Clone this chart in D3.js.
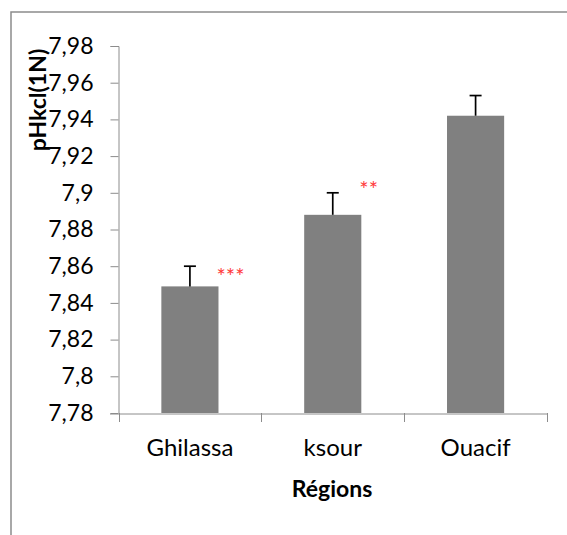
<!DOCTYPE html>
<html><head><meta charset="utf-8">
<script src="https://cdn.jsdelivr.net/npm/d3@7"></script>
<style>body{margin:0;background:#fff}svg{display:block}</style>
</head><body>
<script>
const categories = ["Ghilassa", "ksour", "Ouacif"];
const values = [7.849, 7.888, 7.942];
const errors = [0.011, 0.012, 0.011];
const signif = ["***", "**", ""];
const signifPos = [7.857, 7.904, 7.96];
const yTicks = [7.78, 7.80, 7.82, 7.84, 7.86, 7.88, 7.90, 7.92, 7.94, 7.96, 7.98];

const W = 567, H = 535;
const svg = d3.select("body").append("svg").attr("width", W).attr("height", H);
const font = "Lato, 'Open Sans', sans-serif";

// frame
svg.append("path").attr("d", `M11,${H+2} V12 H${W+2}`).attr("fill","none")
  .attr("stroke","#8c8c8c").attr("stroke-width",1.5);

const x = d3.scaleBand().domain(categories).range([118.5, 547]).padding(0);
const y = d3.scaleLinear().domain([7.78, 7.98]).range([413, 46]);
const bw = x.bandwidth() * 0.4;

// axes
const yAxis = d3.axisLeft(y).tickValues(yTicks).tickSize(8).tickPadding(17)
  .tickFormat(d => d3.format(".2~f")(d).replace(".", ","));
const gy = svg.append("g").attr("transform", "translate(118.5,0)").call(yAxis);
gy.attr("font-size", null).attr("font-family", null);
gy.select(".domain").attr("stroke","#8c8c8c").attr("d","M-8,46.5H0.5V413");
gy.selectAll(".tick line").attr("stroke","#8c8c8c");
gy.selectAll(".tick text").style("font-family",font).style("font-size","23px").attr("fill","#000");

const xAxis = d3.axisBottom(x).tickSize(0);
const gx = svg.append("g").attr("transform","translate(0,413.5)").call(xAxis);
gx.attr("font-size", null).attr("font-family", null);
gx.select(".domain").attr("stroke","#8c8c8c").attr("d","M110,0.5H547");
gx.selectAll(".tick text").style("font-family",font).style("font-size","24px")
  .attr("fill","#000").attr("y", 42).attr("dy", 0);
// category boundary ticks
const bounds = categories.map(c => x(c)).concat([x(categories[2]) + x.bandwidth()]);
svg.append("g").selectAll("line").data(bounds).join("line")
  .attr("x1", d => Math.round(d)+0.5).attr("x2", d => Math.round(d)+0.5)
  .attr("y1", 413).attr("y2", 422).attr("stroke","#8c8c8c");

// bars
svg.append("g").selectAll("rect").data(values).join("rect")
  .attr("x", (d,i) => x(categories[i]) + (x.bandwidth()-bw)/2)
  .attr("width", bw)
  .attr("y", d => y(d)).attr("height", d => 413 - y(d))
  .attr("fill", "#808080");

// error bars
const eg = svg.append("g").attr("stroke","#000").attr("stroke-width",1.7);
values.forEach((v,i) => {
  const cx = x(categories[i]) + x.bandwidth()/2;
  eg.append("line").attr("x1",cx).attr("x2",cx).attr("y1",y(v)).attr("y2",y(v+errors[i]));
  eg.append("line").attr("x1",cx-6).attr("x2",cx+6).attr("y1",y(v+errors[i])).attr("y2",y(v+errors[i]));
});

// significance stars
svg.append("g").selectAll("text").data(signif).join("text")
  .attr("x", (d,i) => x(categories[i]) + x.bandwidth()/2 + bw/2 - 2)
  .attr("y", (d,i) => y(signifPos[i]) + 12)
  .style("font-family", font).style("font-size", "22px").attr("fill","#ff3b3b")
  .text(d => d);

// axis titles
svg.append("text").attr("transform","translate(46,100) rotate(-90)")
  .attr("text-anchor","middle").style("font-family",font).attr("font-weight","bold")
  .style("font-size","23px").attr("fill","#000").text("pHkcl(1N)");
svg.append("text").attr("x", 332).attr("y", 497).attr("text-anchor","middle")
  .style("font-family",font).attr("font-weight","bold").style("font-size","23px")
  .attr("fill","#000").text("Régions");
</script>
</body></html>
